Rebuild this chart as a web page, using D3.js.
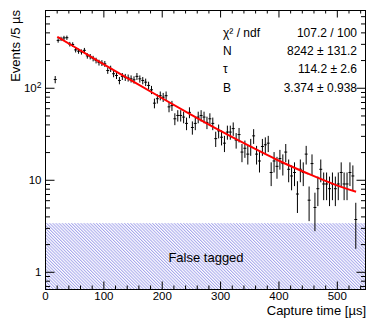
<!DOCTYPE html>
<html>
<head>
<meta charset="utf-8">
<script src="https://cdnjs.cloudflare.com/ajax/libs/d3/7.8.5/d3.min.js"></script>
<style>
body{margin:0;background:#fff}
svg{display:block;font-family:'Liberation Sans',Arial,sans-serif}
</style>
</head>
<body>
<svg id="canvas"></svg>
<script>
// histogram: 5 us bins starting at 15 us
const binLow = 15
const binWidth = 5
const counts = [
  123, 327, 340, 348, 350, 298, 295, 258, 250, 245,
  255, 222, 218, 208, 198, 188, 186, 182, 154, 161,
  142, 136, 120, 133, 130, 128, 125, 122, 133, 125,
  120, 115, 106, 95, 68, 76, 82, 79, 82, 62,
  64, 46, 50, 50, 48, 41, 54, 37, 41, 48,
  50, 48, 42, 46, 41, 28, 34, 29, 25, 33,
  33, 36, 27, 31, 20, 22, 19, 23, 30, 19,
  16, 23, 24, 25, 12, 16, 14, 17, 15, 20,
  13, 11, 12, 7, 13, 12, 19, 6, 15, 5,
  8, 13, 9, 9, 8, 9, 8, 9, 12, 9,
  9, 12, 11, 3.7
]
// fit curve
const fitTime = [21, 50, 100, 150, 200, 250, 300, 350, 400, 450, 500, 533]
const fitValue = [358, 279, 181, 118, 77.4, 51.2, 34.2, 23.3, 16.2, 11.7, 8.7, 7.4]
const falseTaggedLevel = 3.374

const xTicks = [0, 100, 200, 300, 400, 500]
const yTicks = [1, 10, 100]
const statNames = ['χ² / ndf', 'N', 'τ', 'B']
const statValues = ['107.2 / 100', '8242 ± 131.2', '114.2 ± 2.6', '3.374 ± 0.938']

const width = 378
const height = 322
const padL = 45, padR = 366, padT = 10, padB = 289

const canvas = d3.select('#canvas').attr('width', width).attr('height', height)

const x = d3.scaleLinear().domain([0, 550]).range([padL, padR])
const y = d3.scaleLog().domain([0.65, 700]).range([padB, padT])

const points = counts.map((v, i) => ({t: binLow + binWidth * (i + 0.5), v: v}))

// hatch pattern for false tagged band
const defs = canvas.append('defs')
defs.append('pattern')
    .attr('id', 'hatch')
    .attr('patternUnits', 'userSpaceOnUse')
    .attr('width', 2.2)
    .attr('height', 8)
    .attr('patternTransform', 'rotate(-45)')
  .append('line')
    .attr('x1', 0.5).attr('y1', 0)
    .attr('x2', 0.5).attr('y2', 8)
    .attr('stroke', '#a6a6ec')
    .attr('stroke-width', 1)

canvas.append('rect')
    .attr('x', x(0))
    .attr('y', y(falseTaggedLevel))
    .attr('width', x(550) - x(0))
    .attr('height', padB - y(falseTaggedLevel))
    .attr('fill', 'url(#hatch)')

canvas.append('text')
    .attr('x', 206)
    .attr('y', 261.5)
    .attr('text-anchor', 'middle')
    .attr('font-size', 13)
    .text('False tagged')

// error bars
const bars = canvas.append('g').attr('stroke', '#000').attr('stroke-width', 1)
points.forEach(p => {
    const err = Math.sqrt(p.v)
    bars.append('line')
        .attr('x1', x(p.t)).attr('x2', x(p.t))
        .attr('y1', y(p.v + err)).attr('y2', y(Math.max(p.v - err, 0.66)))
    bars.append('line')
        .attr('x1', x(p.t - binWidth / 2)).attr('x2', x(p.t + binWidth / 2))
        .attr('y1', y(p.v)).attr('y2', y(p.v))
})

// fit
const fitLine = d3.line()
    .x((d, i) => x(fitTime[i]))
    .y(d => y(d))
    .curve(d3.curveMonotoneX)
canvas.append('path')
    .attr('d', fitLine(fitValue))
    .attr('fill', 'none')
    .attr('stroke', '#ff0000')
    .attr('stroke-width', 2)

// axes, ticks inward like ROOT
const xMinor = d3.range(20, 550, 20).filter(v => v % 100 !== 0)
const yMinor = []
;[0.1, 1, 10, 100].forEach(dec => {
    for (let k = 2; k <= 9; k++) {
        const v = dec * k
        if (v > 0.65 && v < 700) yMinor.push(v)
    }
})

const xAxis = canvas.append('g')
    .attr('transform', `translate(0,${padB})`)
    .call(d3.axisBottom(x).tickValues(xTicks).tickSizeInner(-7.5).tickSizeOuter(0).tickPadding(3).tickFormat(d3.format('d')))
xAxis.select('.domain').remove()
canvas.append('g')
    .attr('transform', `translate(0,${padB})`)
    .call(d3.axisBottom(x).tickValues(xMinor).tickSizeInner(-3.5).tickSizeOuter(0).tickFormat(''))
    .select('.domain').remove()
canvas.append('g')
    .attr('transform', `translate(0,${padT})`)
    .call(d3.axisTop(x).tickValues(xTicks).tickSizeInner(-7.5).tickSizeOuter(0).tickFormat(''))
    .select('.domain').remove()
canvas.append('g')
    .attr('transform', `translate(0,${padT})`)
    .call(d3.axisTop(x).tickValues(xMinor).tickSizeInner(-3.5).tickSizeOuter(0).tickFormat(''))
    .select('.domain').remove()

const yAxis = canvas.append('g')
    .attr('transform', `translate(${padL},0)`)
    .call(d3.axisLeft(y).tickValues(yTicks).tickSizeInner(-9.5).tickSizeOuter(0).tickPadding(3.5).tickFormat(''))
yAxis.select('.domain').remove()
yAxis.selectAll('.tick text').each(function(d) {
    const t = d3.select(this)
    if (d === 100) {
        t.text('10')
        t.append('tspan').attr('dy', '-0.45em').attr('font-size', 8.5).text('2')
    } else {
        t.text(d)
    }
})
canvas.append('g')
    .attr('transform', `translate(${padL},0)`)
    .call(d3.axisLeft(y).tickValues(yMinor).tickSizeInner(-5).tickSizeOuter(0).tickFormat(''))
    .select('.domain').remove()
canvas.append('g')
    .attr('transform', `translate(${padR},0)`)
    .call(d3.axisRight(y).tickValues(yTicks).tickSizeInner(-9.5).tickSizeOuter(0).tickFormat(''))
    .select('.domain').remove()
canvas.append('g')
    .attr('transform', `translate(${padR},0)`)
    .call(d3.axisRight(y).tickValues(yMinor).tickSizeInner(-5).tickSizeOuter(0).tickFormat(''))
    .select('.domain').remove()

canvas.selectAll('.tick line').attr('stroke', '#000')
canvas.selectAll('.tick text')
    .attr('fill', '#000')
    .attr('font-size', 11.5)
    .attr('font-family', "'Liberation Sans',Arial,sans-serif")

canvas.append('rect')
    .attr('x', padL + 0.5).attr('y', padT + 0.5)
    .attr('width', padR - padL - 1).attr('height', padB - padT)
    .attr('fill', 'none')
    .attr('stroke', '#000')

// axis titles
canvas.append('text')
    .attr('transform', `translate(19.5,${padT}) rotate(-90)`)
    .attr('text-anchor', 'end')
    .attr('font-size', 13)
    .text('Events /5 µs')
canvas.append('text')
    .attr('x', padR)
    .attr('y', 315)
    .attr('text-anchor', 'end')
    .attr('font-size', 13)
    .text('Capture time [µs]')

// fit statistics
const stats = canvas.append('g').attr('font-size', 12)
statNames.forEach((name, i) => {
    stats.append('text')
        .attr('x', 223).attr('y', 37 + i * 18.2)
        .text(name)
    stats.append('text')
        .attr('x', 357).attr('y', 37 + i * 18.2)
        .attr('text-anchor', 'end')
        .text(statValues[i])
})
</script>
</body>
</html>
